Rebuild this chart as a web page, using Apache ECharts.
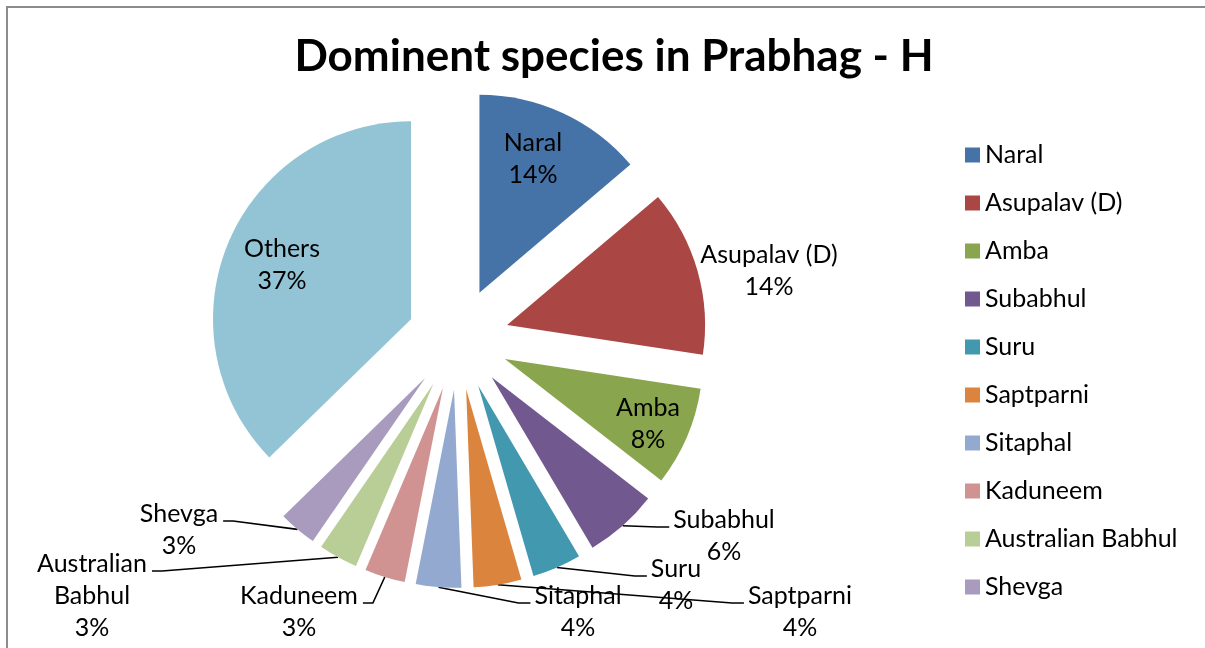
<!DOCTYPE html>
<html>
<head>
<meta charset="utf-8">
<script src="https://cdn.jsdelivr.net/npm/echarts@6/dist/echarts.min.js"></script>
<style>
html,body{margin:0;padding:0;background:#fff;}
#chart{width:1205px;height:648px;}
</style>
</head>
<body>
<div id="chart"></div>
<script>
var species = ['Naral','Asupalav (D)','Amba','Subabhul','Suru','Saptparni','Sitaphal','Kaduneem','Australian Babhul','Shevga','Others'];
var shares = [13.8, 13.6, 8.1, 6.0, 4.0, 3.9, 3.7, 3.3, 3.2, 3.1, 37.3];
var colors = ['#4572A7','#AA4643','#89A54E','#71588F','#4198AF','#DB843D','#93A9CF','#D19392','#B9CD96','#A99BBD','#93C4D6'];
var legendNames = species.slice(0, 10);

// label block centres as Excel placed them, plus the side the leader line comes in from
var labelSpots = [
	[533, 159, ''],
	[769, 271, ''],
	[648, 424, ''],
	[724, 536, 'R'],
	[676, 585, 'R'],
	[800, 612, 'R'],
	[578, 612, 'R'],
	[299, 612, 'L'],
	[92, 596, 'L'],
	[179, 530, 'L'],
	[282, 265, '']
];

var pieCenter = [458, 339];
var pieRadius = 198;
var explode = 51;

var total = shares.reduce(function (a, b) { return a + b; }, 0);

// every slice is pulled out of the pie, so each one gets its own pie series
// whose centre is pushed out along the slice's middle angle
var cum = 0;
var seriesList = species.map(function (name, i) {
	var startDeg = cum / total * 360;
	var midDeg = startDeg + shares[i] / total * 180;
	cum += shares[i];
	var rad = midDeg * Math.PI / 180;
	var spot = labelSpots[i];
	return {
		type: 'pie',
		center: [pieCenter[0] + explode * Math.sin(rad), pieCenter[1] - explode * Math.cos(rad)],
		radius: pieRadius,
		startAngle: 90 - startDeg,
		clockwise: true,
		avoidLabelOverlap: false,
		percentPrecision: 0,
		silent: true,
		emphasis: { disabled: true },
		itemStyle: { color: colors[i] },
		label: {
			show: true,
			position: 'outside',
			color: '#000',
			fontFamily: 'Lato',
			fontSize: 25,
			lineHeight: 32,
			formatter: function (p) {
				var n = p.name.length > 12 ? p.name.replace(' ', '\n') : p.name;
				return n + '\n' + p.percent + '%';
			}
		},
		labelLine: { show: spot[2] !== '', length: 10, length2: 10, lineStyle: { color: '#000', width: 1.6 } },
		data: [
			{ name: name, value: shares[i], itemStyle: { color: colors[i] } },
			{ name: 'rest', value: total - shares[i], itemStyle: { color: 'transparent' }, label: { show: false }, labelLine: { show: false } }
		],
		labelLayout: function (p) {
			if (p.dataIndex !== 0) return;
			var out = { x: spot[0], y: spot[1], align: 'center', verticalAlign: 'middle' };
			if (spot[2] && p.labelLinePoints) {
				var w = p.labelRect.width, h = p.labelRect.height;
				var ey = spot[1] - h / 2 + 23;
				var ex = spot[2] === 'R' ? spot[0] - w / 2 - 4 : spot[0] + w / 2 + 5;
				var bx = spot[2] === 'R' ? ex - 12 : ex + 10;
				out.labelLinePoints = [p.labelLinePoints[0], [bx, ey], [ex, ey]];
			}
			return out;
		}
	};
});

var chart = echarts.init(document.getElementById('chart'));
chart.setOption({
	backgroundColor: '#fff',
	animation: false,
	title: {
		text: 'Dominent species in Prabhag - H',
		left: 609,
		textAlign: 'center',
		top: 30,
		textStyle: { fontFamily: 'Lato', fontWeight: 'bold', fontSize: 44, color: '#000' }
	},
	legend: {
		orient: 'vertical',
		left: 960,
		top: 137,
		data: legendNames,
		icon: 'rect',
		itemWidth: 15,
		itemHeight: 15,
		itemGap: 22,
		selectedMode: false,
		textStyle: { fontFamily: 'Lato', fontSize: 25, lineHeight: 26, color: '#000' }
	},
	graphic: [{
		type: 'rect',
		shape: { x: 7, y: 7, width: 1300, height: 800 },
		style: { fill: 'none', stroke: '#8c8c8c', lineWidth: 2 }
	}],
	series: seriesList
});
</script>
</body>
</html>
